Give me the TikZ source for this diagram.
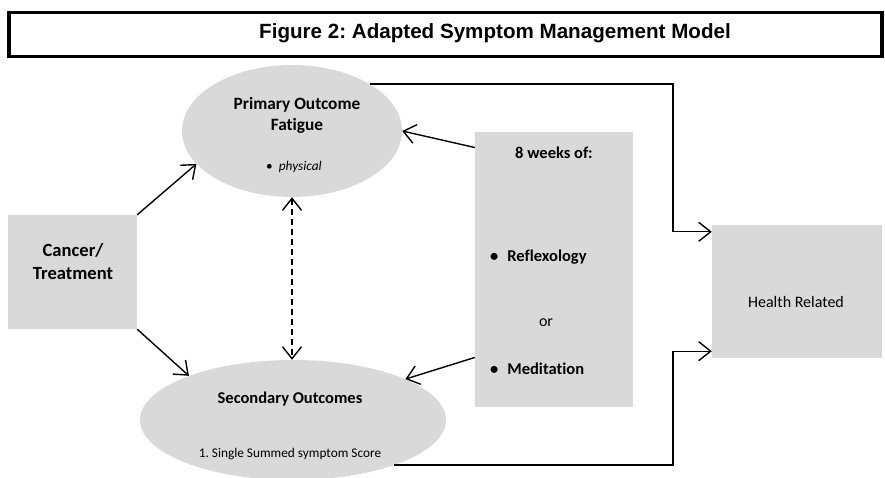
\documentclass[tikz,border=0pt]{standalone}
\usepackage{fontspec}
\setmainfont{Carlito}[Ligatures={NoCommon}]
\newfontfamily\titlefont{Liberation Sans}
\usetikzlibrary{shapes.geometric,arrows.meta,calc}
\definecolor{boxgrey}{RGB}{217,217,217}
\frenchspacing
\begin{document}
\begin{tikzpicture}[x=1pt,y=-1pt,
  greybox/.style={rectangle, fill=boxgrey, inner sep=0pt},
  greyell/.style={ellipse, fill=boxgrey, inner sep=0pt},
  txt/.style={inner sep=0pt, anchor=center},
  bigb/.style={txt, font=\fontsize{18.6}{22}\selectfont\bfseries},
  midb/.style={txt, font=\fontsize{16.5}{20}\selectfont\bfseries},
  midr/.style={txt, font=\fontsize{16}{19}\selectfont},
  smallr/.style={txt, font=\fontsize{13.3}{16}\selectfont},
  conn/.style={line width=1.4pt, -{Straight Barb[length=12pt,width=19pt]}},
  dconn/.style={line width=1.4pt, dash pattern=on 6pt off 4pt, {Straight Barb[length=12pt,width=19pt]}-{Straight Barb[length=12pt,width=19pt]}}
]
\useasboundingbox (0,0) rectangle (885,478);
\begin{scope}
\clip (0,0) rectangle (885,478);
% title
\node[draw, line width=3.5pt, rectangle, minimum width=873pt, minimum height=44pt, inner sep=0pt] (title) at (445.5,34.5) {};
\node[txt, font=\titlefont\fontsize{20.6}{24}\selectfont\bfseries] (titletxt) at (495,33) {Figure 2: Adapted Symptom Management Model};
% shapes
\node[greyell, minimum width=220pt, minimum height=132pt] (prim) at (292,131) {};
\node[greyell, minimum width=306pt, minimum height=120pt] (sec) at (293,420) {};
\node[greybox, minimum width=129pt, minimum height=114pt] (cancer) at (72.5,272) {};
\node[greybox, minimum width=158pt, minimum height=275pt] (weeks) at (554,269.5) {};
\node[greybox, minimum width=170pt, minimum height=133pt] (health) at (797,291.5) {};
% texts
\node[midb, font=\fontsize{17.3}{20}\selectfont\bfseries] (pt1) at (297,105) {Primary Outcome};
\node[midb, font=\fontsize{17.3}{20}\selectfont\bfseries] (pt2) at (297,126) {Fatigue};
\node[smallr] (pt3) at (294,167) {\textbullet\hspace{6pt}\textit{physical}};
\node[midb] (st1) at (290,399) {Secondary Outcomes};
\node[smallr] (st2) at (290,454) {1. Single Summed symptom Score};
\node[bigb] (ct1) at (73,250) {Cancer/};
\node[bigb] (ct2) at (73,274) {Treatment};
\node[midb] (wt1) at (554,153) {8 weeks of:};
\node[midb, anchor=west] (wt2) at (490,257) {\textbullet\hspace{9pt}Reflexology};
\node[midr] (wt3) at (546,323) {or};
\node[midb, anchor=west] (wt4) at (490,369) {\textbullet\hspace{9pt}Meditation};
\node[midr] (ht1) at (796,302) {Health Related};
% connectors
\coordinate (cx) at (673,0);
\draw[conn] (cancer.north east) -- (prim.199);
\draw[conn] (cancer.south east) -- (sec.157);
\draw[conn] (weeks.123.7) -- (prim.east);
\draw[conn] (weeks.228.2) -- (sec.20);
\draw[dconn] (prim.south) -- (prim.south |- sec.north);
\coordinate (h1) at ($(health.north west)+(0,7)$);
\coordinate (h2) at ($(health.south west)+(0,-7)$);
\draw[conn] (prim.31) -- (prim.31 -| cx) |- (h1);
\draw[conn] (sec.-24) -- (sec.-24 -| cx) |- (h2);
\end{scope}
\end{tikzpicture}
\end{document}
